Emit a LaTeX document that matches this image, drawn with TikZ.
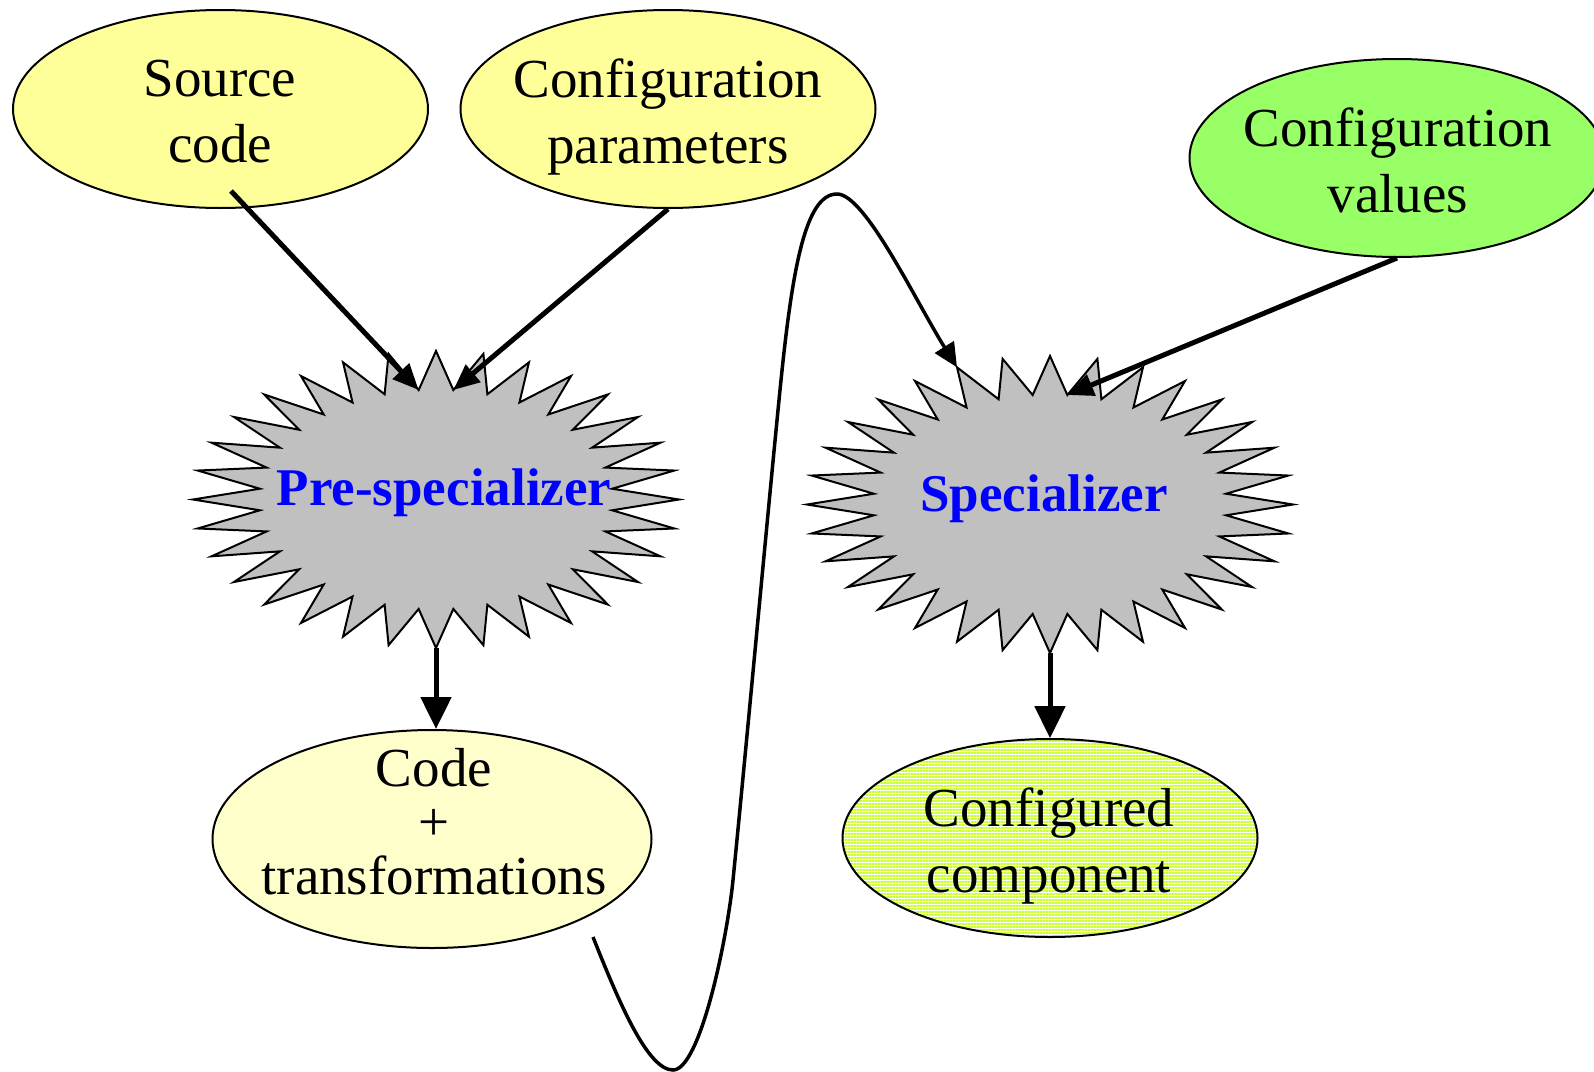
\documentclass[tikz,border=0pt]{standalone}
\usepackage{fontspec}
\setmainfont{Liberation Serif}
\usetikzlibrary{arrows.meta,shapes.geometric,patterns.meta,calc}

\definecolor{paleyellow}{RGB}{255,255,153}
\definecolor{creamyellow}{RGB}{255,255,204}
\definecolor{limegreen}{RGB}{153,255,102}
\definecolor{stripegreen}{RGB}{204,255,51}
\definecolor{burstgray}{RGB}{192,192,192}
\definecolor{titleblue}{RGB}{0,0,255}

\tikzset{
  bubble/.style={ellipse, draw=black, line width=2pt, inner sep=0pt,
    minimum width=415pt, minimum height=198pt},
  lbltext/.style={font=\fontsize{55}{66}\selectfont, align=center, inner sep=0pt},
  bursttext/.style={font=\fontsize{53}{66}\selectfont\bfseries, text=titleblue, inner sep=0pt},
  burstfill/.style={fill=burstgray, draw=black, line width=2pt, line join=miter},
  burstarea/.style={ellipse, inner sep=0pt, minimum width=486pt, minimum height=297pt},
  feedarrow/.style={line width=5pt, -{Triangle[length=26pt,width=22pt]}},
  outarrow/.style={line width=5pt, -{Triangle[length=32pt,width=30pt]}},
  looparrow/.style={line width=3.5pt, -{Triangle[length=24pt,width=22pt]}},
}

% 32-point star: tips on the outer ellipse, notches on the inner one
\newcommand\spikyburst[2]{%
  \filldraw[burstfill] plot[variable=\k, samples at={0,...,63}]
    ({#1+ifthenelse(mod(\k,2)==0,243,177)*cos(\k*5.625)},
     {#2+ifthenelse(mod(\k,2)==0,148.5,110)*sin(\k*5.625)}) -- cycle;}

\begin{document}
\begin{tikzpicture}[x=1pt,y=-1pt]
  \useasboundingbox (0,0) rectangle (1594,1071);
  \clip (0,0) rectangle (1594,1071);

  % inputs
  \node[bubble, fill=paleyellow] (src) at (220.5,109) {};
  \node[lbltext] at (220,112) {Source\\code};
  \node[bubble, fill=paleyellow] (prm) at (668,109) {};
  \node[lbltext] at (668,117) {Configuration\\parameters};
  \node[bubble, fill=limegreen] (val) at (1397,158) {};
  \node[lbltext] at (1398,160) {Configuration\\values};

  % the two processing stages
  \spikyburst{436}{499.5}
  \node[burstarea] (pre) at (436,499.5) {};
  \node[bursttext] at (444,493) {Pre-specializer};
  \spikyburst{1050}{504.5}
  \node[burstarea] (spec) at (1050,504.5) {};
  \node[bursttext] at (1044,499) {Specializer};

  % results
  \node[bubble, fill=creamyellow, minimum width=439pt, minimum height=218pt] (code) at (432,839) {};
  \node[lbltext, font=\fontsize{55}{54}\selectfont] at (434,822) {Code\\+\\transformations};
  \node[bubble, pattern={Lines[angle=0,distance=3pt,line width=1.6pt]},
        pattern color=stripegreen] (conf) at (1050,838) {};
  \node[lbltext] at (1049,846) {Configured\\component};

  % connection points on the bursts
  \coordinate (src-out) at (231,191);
  \coordinate (pre-in-a) at ($(pre)+(-17.35,-109.5)$);
  \coordinate (pre-in-b) at ($(pre)+(17.35,-109.5)$);
  \coordinate (spec-in) at ($(spec)+(17.35,-109.5)$);
  \coordinate (spec-tip) at ($(spec)+(-93,-137.2)$);
  \coordinate (loop-start) at (593,937);

  % connectors
  \draw[feedarrow] (src-out) -- (pre-in-a);
  \draw[feedarrow] (prm.south) -- (pre-in-b);
  \draw[feedarrow] (val.south) -- (spec-in);
  \draw[outarrow] (pre.south) -- (pre.south |- code.north);
  \draw[outarrow] (spec.south) -- (spec.south |- conf.north);
  \draw[looparrow] (loop-start)
    .. controls (620,1005) and (648,1070) .. (673,1070)
    .. controls (700,1070) and (727,940) .. (733,880)
    .. controls (745,760) and (768,510) .. (780,390)
    .. controls (792,270) and (805,194) .. (837,194)
    .. controls (865,194) and (915,300) .. (spec-tip);
\end{tikzpicture}
\end{document}
